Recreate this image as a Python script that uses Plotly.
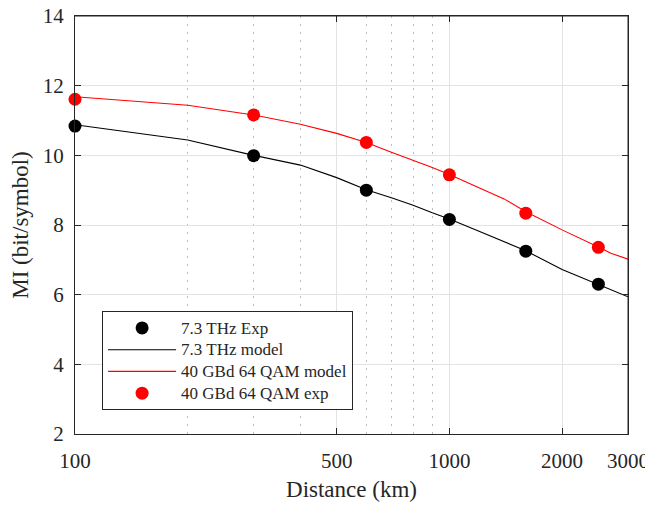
import plotly.graph_objects as go

# Experimental points
exp_distance = [100, 300, 600, 1000, 1600, 2500]
thz_exp = [10.84, 9.99, 9.00, 8.16, 7.25, 6.30]
qam_exp = [11.61, 11.16, 10.37, 9.44, 8.34, 7.36]

# Model curves
model_distance = [100, 200, 300, 400, 500, 600, 700, 800, 900, 1000,
                  1200, 1400, 1600, 2000, 2500, 2700, 3000]
thz_model = [10.88, 10.44, 10.00, 9.72, 9.36, 9.01, 8.78, 8.57, 8.35, 8.17,
             7.82, 7.52, 7.26, 6.72, 6.30, 6.14, 5.94]
qam_model = [11.68, 11.44, 11.16, 10.89, 10.63, 10.37, 10.09, 9.86, 9.65, 9.45,
             9.08, 8.75, 8.38, 7.86, 7.37, 7.19, 7.02]

x_ticks = [100, 500, 1000, 2000, 3000]
x_minor = [200, 300, 400, 600, 700, 800, 900]
y_ticks = [2, 4, 6, 8, 10, 12, 14]

series_names = ["7.3 THz Exp", "7.3 THz model", "40 GBd 64 QAM model", "40 GBd 64 QAM exp"]

FONT = "Liberation Serif"
AX = "#262626"


def lg(name):
    return '<span style="font-size:17px">' + name + '</span>'


fig = go.Figure()
fig.add_trace(go.Scatter(x=exp_distance, y=thz_exp, mode="markers",
                         name=lg(series_names[0]),
                         marker=dict(color="black", size=13), cliponaxis=False))
fig.add_trace(go.Scatter(x=model_distance, y=thz_model, mode="lines",
                         name=lg(series_names[1]),
                         line=dict(color="black", width=1.1)))
fig.add_trace(go.Scatter(x=model_distance, y=qam_model, mode="lines",
                         name=lg(series_names[2]),
                         line=dict(color="#ff0000", width=1.1)))
fig.add_trace(go.Scatter(x=exp_distance, y=qam_exp, mode="markers",
                         name=lg(series_names[3]),
                         marker=dict(color="#ff0000", size=13), cliponaxis=False))

# frame: top and right edges of the plot area
frame = [
    dict(type="line", xref="paper", yref="paper", x0=0, x1=1, y0=1, y1=1,
         line=dict(color=AX, width=1), layer="above"),
    dict(type="line", xref="paper", yref="paper", x0=1, x1=1, y0=0, y1=1,
         line=dict(color=AX, width=1), layer="above"),
]

# page body has an 8px margin, so the figure is 645x500 placed at (8, 8)
fig.update_layout(
    width=645, height=500,
    margin=dict(l=67, r=25, t=8, b=74, autoexpand=False),
    paper_bgcolor="white", plot_bgcolor="white",
    font=dict(family=FONT, color="#262626"),
    showlegend=True,
    legend=dict(x=0.049, y=0.294, xanchor="left", yanchor="top",
                bgcolor="white", bordercolor=AX, borderwidth=1,
                font=dict(family=FONT, size=14.4, color="#262626"),
                itemwidth=68, tracegroupgap=0),
    shapes=frame,
)
fig.update_xaxes(
    type="log", range=[2, 3.4771], tickmode="array", tickvals=x_ticks,
    ticktext=[str(v) for v in x_ticks], automargin=False,
    showline=True, linecolor=AX, linewidth=1, mirror="ticks",
    ticks="inside", ticklen=6, tickcolor=AX,
    showgrid=True, gridcolor="#e3e3e3", gridwidth=1,
    minor=dict(tickmode="array", tickvals=x_minor, showgrid=True,
               griddash="2px,6px", gridcolor="#bdbdbd", gridwidth=1, ticks=""),
    tickfont=dict(family=FONT, size=21, color="#262626"),
    ticklabelstandoff=8, ticklabeloverflow="allow",
    title=dict(text="Distance (km)", font=dict(family=FONT, size=23, color="#262626"),
               standoff=8),
    zeroline=False,
)
fig.update_yaxes(
    range=[2, 14.0001], tickmode="array", tickvals=y_ticks, automargin=False,
    showline=True, linecolor=AX, linewidth=1, mirror="ticks",
    ticks="inside", ticklen=6, tickcolor=AX,
    showgrid=True, gridcolor="#e3e3e3", gridwidth=1,
    tickfont=dict(family=FONT, size=21, color="#262626"),
    ticklabelstandoff=6, ticklabeloverflow="allow",
    title=dict(text="MI (bit/symbol)", font=dict(family=FONT, size=23, color="#262626"),
               standoff=11),
    zeroline=False,
)

fig.write_html("out.html")
